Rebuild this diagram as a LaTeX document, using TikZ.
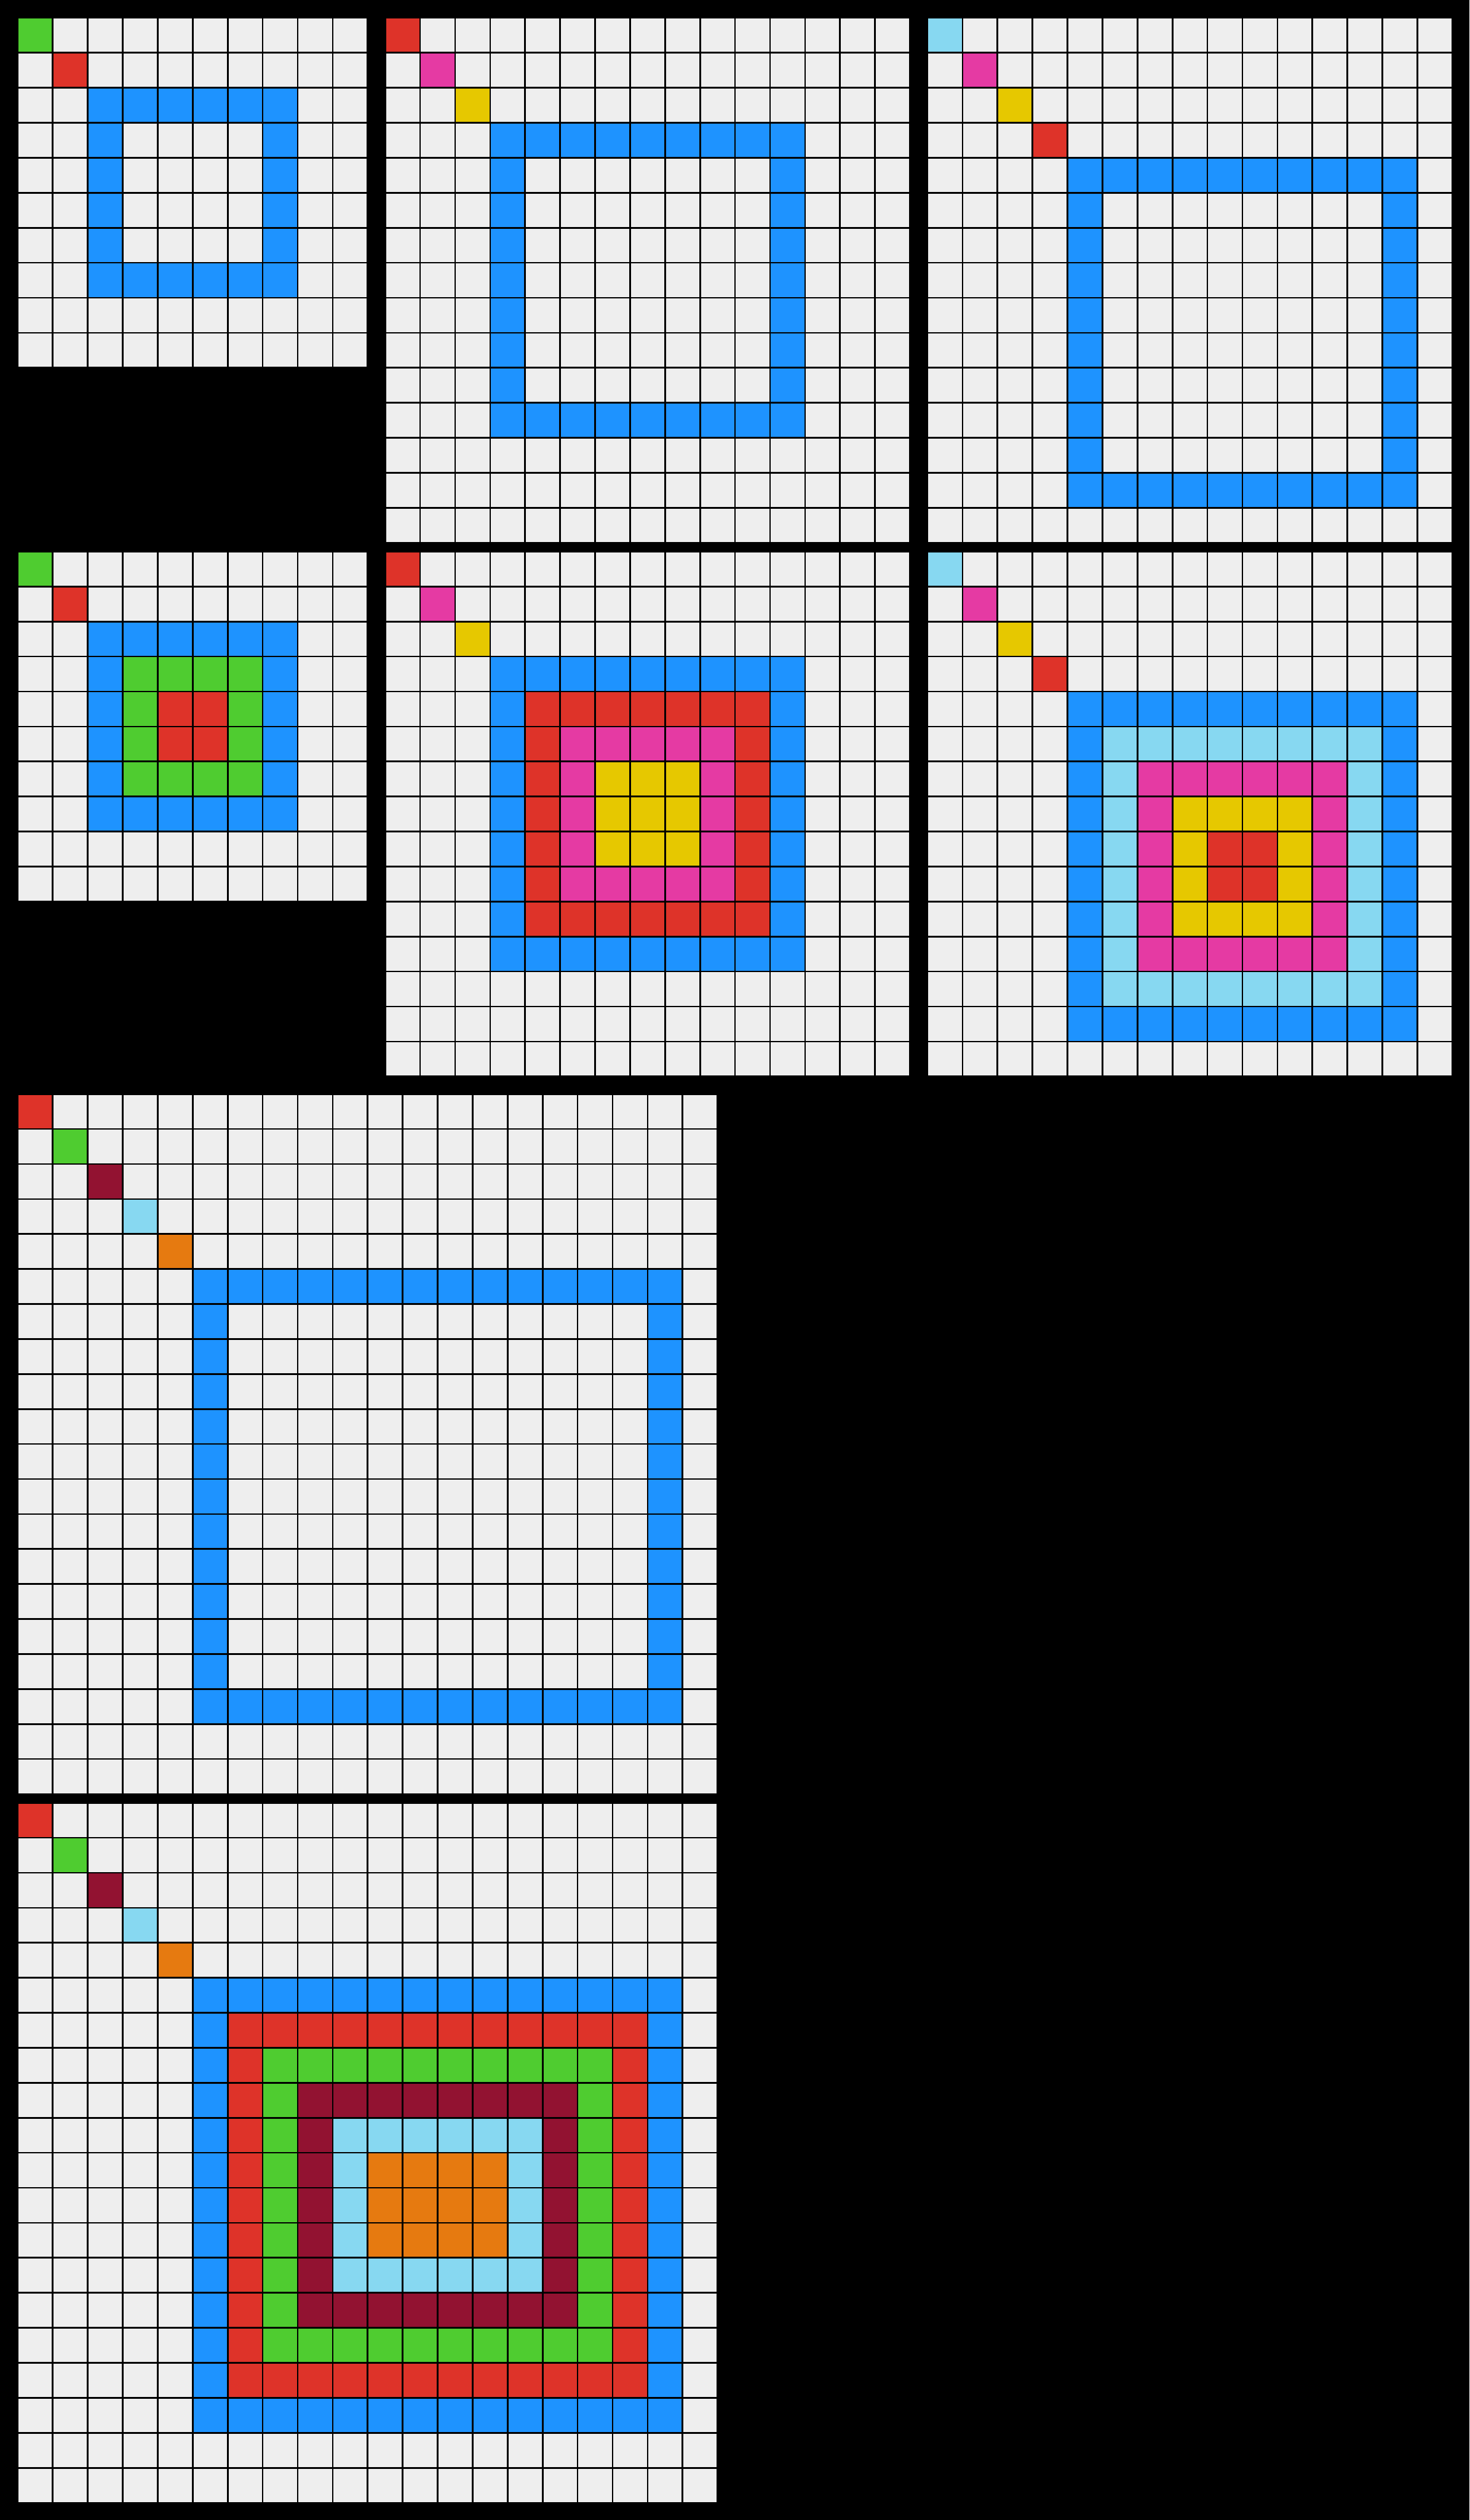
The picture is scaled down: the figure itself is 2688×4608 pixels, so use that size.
\documentclass[tikz,border=0pt]{standalone}
\definecolor{ArcBlack}{HTML}{000000}
\definecolor{ArcGray}{HTML}{EEEEEE}
\definecolor{ArcBlue}{HTML}{1E93FF}
\definecolor{ArcRed}{HTML}{DE3329}
\definecolor{ArcGreen}{HTML}{4FCC30}
\definecolor{ArcYellow}{HTML}{E6C800}
\definecolor{ArcMagenta}{HTML}{E53AA3}
\definecolor{ArcOrange}{HTML}{E67A10}
\definecolor{ArcSky}{HTML}{87D8F1}
\definecolor{ArcMaroon}{HTML}{921231}
\usepackage{tikz}

\tikzset{
  cell/.style={fill=#1},
  board/.style={fill=ArcBlack}
}

% block of cells: origin x, origin y, first row, last row, first col, last col, colour
\newcommand{\cellblock}[7]{%
  \foreach \r in {#3,...,#4}{%
    \foreach \c in {#5,...,#6}{%
      \fill[cell=#7] ({#1+64*\c},{#2+64*\r}) rectangle +(61,61);
    }%
  }%
}
% one cell on the diagonal
\newcommand{\diagcell}[4]{%
  \fill[cell=#4] ({#1+64*#3},{#2+64*#3}) rectangle +(61,61);%
}

\begin{document}
\begin{tikzpicture}[x=0.1pt,y=-0.1pt]
    \useasboundingbox (0,0) rectangle (2688,4608);
    \fill[board] (0,0) rectangle (2688,4608);

    % row 1: inputs
    \cellblock{34}{34}{0}{9}{0}{9}{ArcGray}
    \diagcell{34}{34}{0}{ArcGreen}
    \diagcell{34}{34}{1}{ArcRed}
    \cellblock{34}{34}{2}{7}{2}{7}{ArcBlue}
    \cellblock{34}{34}{3}{6}{3}{6}{ArcGray}

    \cellblock{706}{34}{0}{14}{0}{14}{ArcGray}
    \diagcell{706}{34}{0}{ArcRed}
    \diagcell{706}{34}{1}{ArcMagenta}
    \diagcell{706}{34}{2}{ArcYellow}
    \cellblock{706}{34}{3}{11}{3}{11}{ArcBlue}
    \cellblock{706}{34}{4}{10}{4}{10}{ArcGray}

    \cellblock{1698}{34}{0}{14}{0}{14}{ArcGray}
    \diagcell{1698}{34}{0}{ArcSky}
    \diagcell{1698}{34}{1}{ArcMagenta}
    \diagcell{1698}{34}{2}{ArcYellow}
    \diagcell{1698}{34}{3}{ArcRed}
    \cellblock{1698}{34}{4}{13}{4}{13}{ArcBlue}
    \cellblock{1698}{34}{5}{12}{5}{12}{ArcGray}

    % row 2: outputs
    \cellblock{34}{1010}{0}{9}{0}{9}{ArcGray}
    \diagcell{34}{1010}{0}{ArcGreen}
    \diagcell{34}{1010}{1}{ArcRed}
    \cellblock{34}{1010}{2}{7}{2}{7}{ArcBlue}
    \cellblock{34}{1010}{3}{6}{3}{6}{ArcGreen}
    \cellblock{34}{1010}{4}{5}{4}{5}{ArcRed}

    \cellblock{706}{1010}{0}{14}{0}{14}{ArcGray}
    \diagcell{706}{1010}{0}{ArcRed}
    \diagcell{706}{1010}{1}{ArcMagenta}
    \diagcell{706}{1010}{2}{ArcYellow}
    \cellblock{706}{1010}{3}{11}{3}{11}{ArcBlue}
    \cellblock{706}{1010}{4}{10}{4}{10}{ArcRed}
    \cellblock{706}{1010}{5}{9}{5}{9}{ArcMagenta}
    \cellblock{706}{1010}{6}{8}{6}{8}{ArcYellow}

    \cellblock{1698}{1010}{0}{14}{0}{14}{ArcGray}
    \diagcell{1698}{1010}{0}{ArcSky}
    \diagcell{1698}{1010}{1}{ArcMagenta}
    \diagcell{1698}{1010}{2}{ArcYellow}
    \diagcell{1698}{1010}{3}{ArcRed}
    \cellblock{1698}{1010}{4}{13}{4}{13}{ArcBlue}
    \cellblock{1698}{1010}{5}{12}{5}{12}{ArcSky}
    \cellblock{1698}{1010}{6}{11}{6}{11}{ArcMagenta}
    \cellblock{1698}{1010}{7}{10}{7}{10}{ArcYellow}
    \cellblock{1698}{1010}{8}{9}{8}{9}{ArcRed}

    % test pair
    \cellblock{34}{2002}{0}{19}{0}{19}{ArcGray}
    \diagcell{34}{2002}{0}{ArcRed}
    \diagcell{34}{2002}{1}{ArcGreen}
    \diagcell{34}{2002}{2}{ArcMaroon}
    \diagcell{34}{2002}{3}{ArcSky}
    \diagcell{34}{2002}{4}{ArcOrange}
    \cellblock{34}{2002}{5}{17}{5}{18}{ArcBlue}
    \cellblock{34}{2002}{6}{16}{6}{17}{ArcGray}

    \cellblock{34}{3298}{0}{19}{0}{19}{ArcGray}
    \diagcell{34}{3298}{0}{ArcRed}
    \diagcell{34}{3298}{1}{ArcGreen}
    \diagcell{34}{3298}{2}{ArcMaroon}
    \diagcell{34}{3298}{3}{ArcSky}
    \diagcell{34}{3298}{4}{ArcOrange}
    \cellblock{34}{3298}{5}{17}{5}{18}{ArcBlue}
    \cellblock{34}{3298}{6}{16}{6}{17}{ArcRed}
    \cellblock{34}{3298}{7}{15}{7}{16}{ArcGreen}
    \cellblock{34}{3298}{8}{14}{8}{15}{ArcMaroon}
    \cellblock{34}{3298}{9}{13}{9}{14}{ArcSky}
    \cellblock{34}{3298}{10}{12}{10}{13}{ArcOrange}
\end{tikzpicture}
\end{document}
